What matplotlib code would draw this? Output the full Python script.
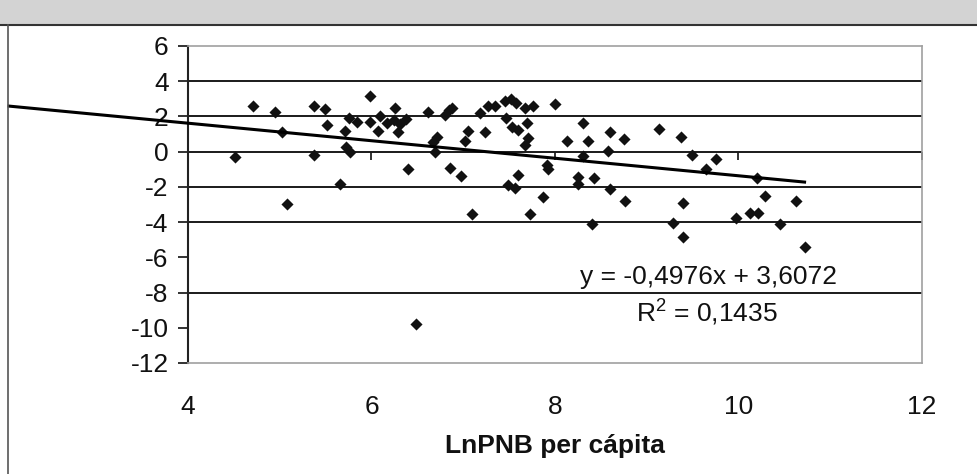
import matplotlib
matplotlib.use("Agg")
import matplotlib.pyplot as plt
from matplotlib.patches import Rectangle
from matplotlib.lines import Line2D

plt.rcParams['font.family'] = ['Liberation Sans', 'DejaVu Sans']
plt.rcParams['mathtext.fontset'] = 'custom'
plt.rcParams['mathtext.rm'] = 'Liberation Sans'
plt.rcParams['mathtext.it'] = 'Liberation Sans'

# ---------------- data ----------------
ln_pnb = [4.51, 4.71, 4.95, 5.02, 5.08, 5.37, 5.37, 5.49, 5.52, 5.66,
          5.71, 5.72, 5.77, 5.75, 5.84, 5.98, 5.98, 6.07, 6.09, 6.17,
          6.24, 6.26, 6.31, 6.38, 6.29, 6.40, 6.49, 6.62, 6.80, 6.85,
          6.88, 6.71, 6.67, 6.69, 6.86, 6.98, 7.02, 7.05, 7.09, 7.18,
          7.27, 7.35, 7.24, 7.45, 7.52, 7.57, 7.67, 7.76, 7.47, 7.53,
          7.60, 7.69, 7.71, 7.67, 7.60, 7.49, 7.56, 7.73, 7.87, 7.91,
          7.92, 8.00, 8.13, 8.31, 8.31, 8.36, 8.25, 8.25, 8.42, 8.40,
          8.60, 8.75, 8.58, 8.60, 8.76, 9.13, 9.37, 9.49, 9.75, 9.65,
          9.29, 9.40, 9.39, 9.97, 10.13, 10.21, 10.20, 10.29, 10.45, 10.63,
          10.72]
y_vals = [-0.33, 2.58, 2.28, 1.10, -3.00, 2.58, -0.19, 2.44, 1.49, -1.85,
          1.18, 0.25, 0.00, 1.90, 1.70, 3.17, 1.68, 1.16, 2.00, 1.63,
          1.80, 2.47, 1.55, 1.88, 1.10, -1.00, -9.80, 2.28, 2.07, 2.35,
          2.47, 0.84, 0.55, -0.04, -0.95, -1.41, 0.58, 1.19, -3.55, 2.18,
          2.58, 2.58, 1.10, 2.85, 3.00, 2.75, 2.47, 2.58, 1.90, 1.42,
          1.22, 1.63, 0.76, 0.40, -1.31, -1.90, -2.09, -3.55, -2.55, -0.75,
          -1.00, 2.68, 0.58, 1.63, -0.22, 0.58, -1.42, -1.85, -1.50, -4.08,
          1.10, 0.73, 0.02, -2.12, -2.82, 1.29, 0.84, -0.19, -0.43, -0.98,
          -4.05, -4.86, -2.91, -3.74, -3.47, -3.47, -1.50, -2.53, -4.10, -2.80,
          -5.43]

slope = -0.4976
intercept = 3.6072
r_squared = "0,1435"
trend_x = [2.05, 10.72]

x_ticks = [4, 6, 8, 10, 12]
y_ticks = [6, 4, 2, 0, -2, -4, -6, -8, -10, -12]
grid_levels = [4, 2, 0, -2, -4, -8]
x_label = "LnPNB per cápita"

FS = 19

# ---------------- figure ----------------
W, H = 978, 474
fig = plt.figure(figsize=(W / 100, H / 100), dpi=100)

# header band and frame line
fig.patches.append(Rectangle((0, 1 - 25 / H), 1, 25 / H, transform=fig.transFigure,
                             facecolor='#d3d3d3', edgecolor='none', zorder=0))
fig.lines.append(Line2D([0, 1], [1 - 25 / H, 1 - 25 / H], transform=fig.transFigure,
                        color='#333333', lw=1.5))
fig.lines.append(Line2D([8 / W, 8 / W], [0, 1 - 25 / H], transform=fig.transFigure,
                        color='#555555', lw=1.2))

ax = fig.add_axes([188 / W, 1 - 363 / H, (922 - 188) / W, (363 - 46) / H])
ax.set_xlim(4, 12)
ax.set_ylim(-12, 6)

for g in grid_levels:
    ax.axhline(g, color='#1a1a1a', lw=1.4, zorder=1)

ax.scatter(ln_pnb, y_vals, marker='D', s=38, color='#111111', zorder=3, linewidths=0)

tx = trend_x
ty = [slope * v + intercept for v in tx]
ax.plot(tx, ty, color='#000000', lw=2.2, clip_on=False, zorder=4)

txt_kw = dict(fontsize=FS, color='#111111', ha='center', va='center')
ax.text(9.67, -7.12, "y = -0,4976x + 3,6072", **txt_kw)
ax.text(9.66, -9.16, r"R$^{2}$ = " + r_squared, **txt_kw)

# spines
ax.spines['left'].set_color('#222222')
ax.spines['left'].set_linewidth(1.5)
for s in ['top', 'right', 'bottom']:
    ax.spines[s].set_color('#a0a0a0')
    ax.spines[s].set_linewidth(1.2)

ax.set_yticks(y_ticks)
ax.set_yticklabels([str(v) for v in y_ticks])
ax.tick_params(axis='y', direction='out', length=7, width=1.3, pad=7,
               labelsize=FS, colors='#222222', labelcolor='#111111')
ax.set_xticks(x_ticks)
ax.set_xticklabels([str(v) for v in x_ticks])
ax.tick_params(axis='x', length=0, pad=23, labelsize=FS, labelcolor='#111111')

# axis crossing at y = 0 with tick marks
sec = ax.secondary_xaxis(12 / 18)
sec.set_alignment('bottom')
sec.set_xticks(x_ticks)
sec.tick_params(axis='x', direction='out', length=6, width=1.3, labelbottom=False,
                labeltop=False, colors='#222222')
for s in sec.spines.values():
    s.set_visible(False)

ax.set_xlabel(x_label, fontsize=FS, fontweight='bold', labelpad=11, color='#111111')

fig.savefig("out.png", dpi=100)
